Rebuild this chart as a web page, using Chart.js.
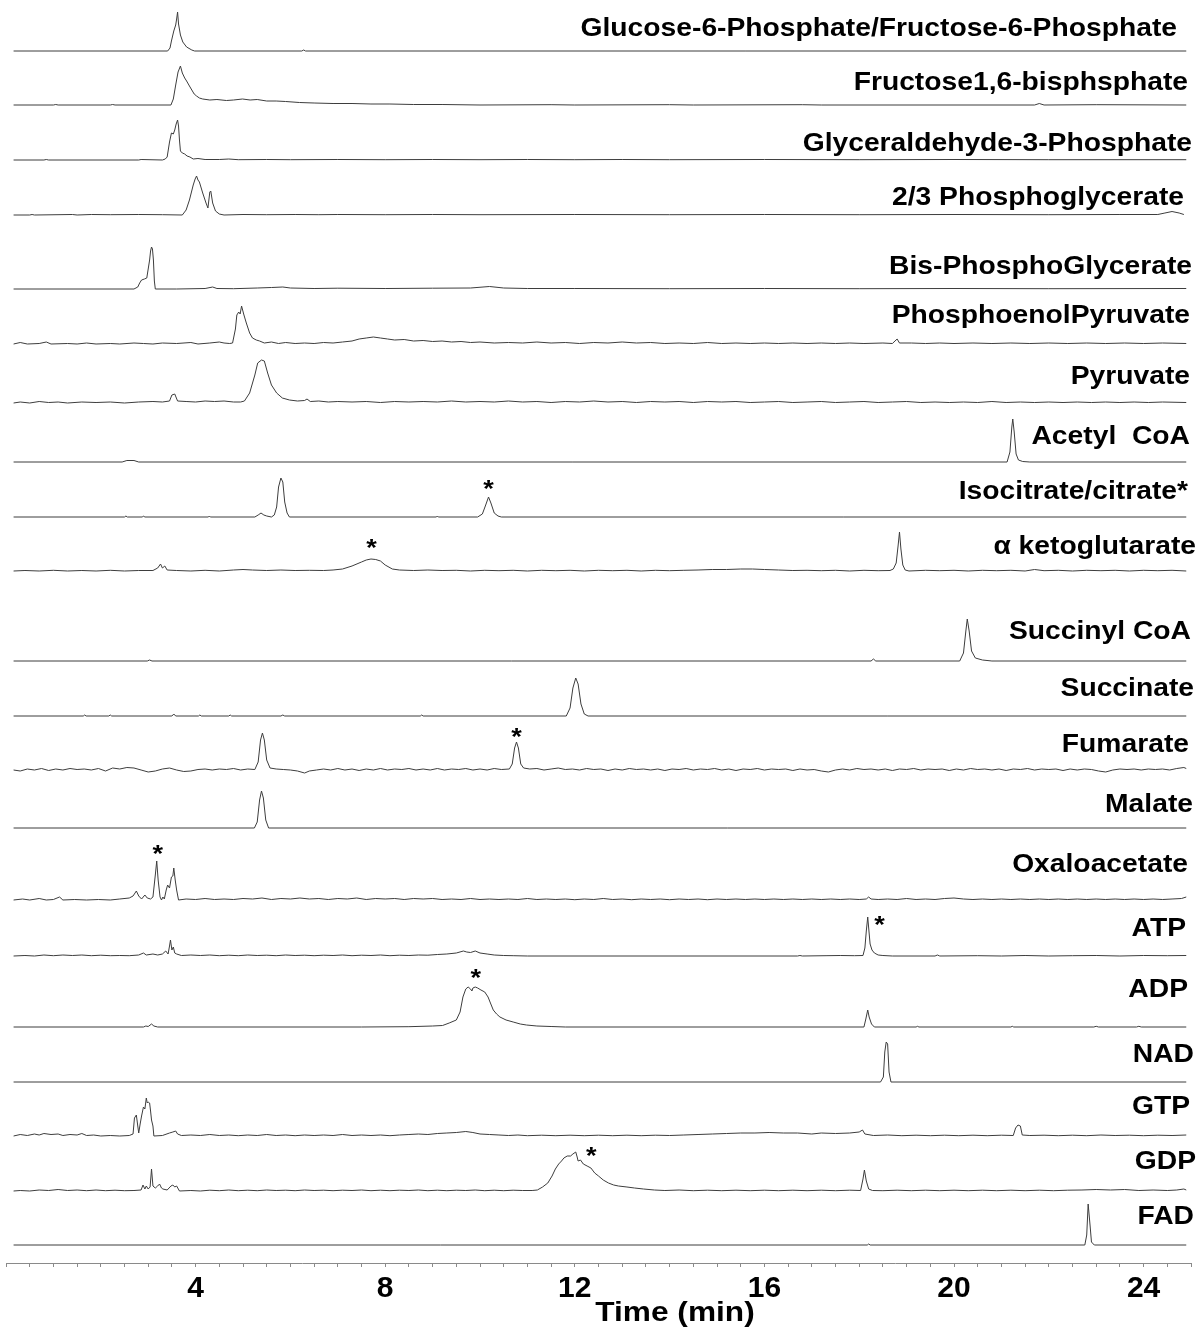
<!DOCTYPE html>
<html lang="en">
<head>
<meta charset="UTF-8">
<title>LC-MS/MS chromatograms of central carbon metabolites</title>
<script src="https://cdn.jsdelivr.net/npm/chart.js"></script>
<style>
  body { margin: 0; background: #fff; }
  #wrap { width: 1199px; height: 1332px; }
</style>
</head>
<body>
<div id="wrap"><canvas id="lcChart"></canvas></div>
<script>
// one trace per metabolite, top to bottom; each point is [time (min), signal above its own baseline]
const names = ['Glucose-6-Phosphate/Fructose-6-Phosphate', 'Fructose1,6-bisphsphate', 'Glyceraldehyde-3-Phosphate',
  '2/3 Phosphoglycerate', 'Bis-PhosphoGlycerate', 'PhosphoenolPyruvate', 'Pyruvate', 'Acetyl  CoA',
  'Isocitrate/citrate*', '\u03b1 ketoglutarate', 'Succinyl CoA', 'Succinate', 'Fumarate', 'Malate',
  'Oxaloacetate', 'ATP', 'ADP', 'NAD', 'GTP', 'GDP', 'FAD'];

const timeTicks = [4, 8, 12, 16, 20, 24];

const g6p = [[0.16,0],[3.41,0],[3.46,3],[3.49,10],[3.54,20],[3.58,26],[3.6,32],[3.62,39],[3.64,27],[3.68,16],[3.73,9],[3.81,4],[3.92,1],[3.98,0],[6.24,0],[6.28,1],[6.32,0],[24.9,0]];

const f16bp = [[0.16,0],[1.0,0],[1.05,0.5],[1.1,0],[2.2,0],[2.25,0.5],[2.3,0],[3.48,0],[3.53,6],[3.58,20],[3.63,33],[3.68,39],[3.72,32],[3.77,27],[3.81,24],[3.87,19],[3.92,15],[3.97,11],[4.02,9],[4.08,7],[4.15,6],[4.3,5],[4.45,5.5],[4.65,4.5],[4.8,5],[4.99,6],[5.15,5],[5.3,5.5],[5.5,4],[5.7,4],[5.9,3.5],[6.19,2.5],[6.5,2],[6.9,1.5],[7.3,1.5],[7.7,1],[8.1,1],[8.6,0.5],[9.2,0.5],[10,0],[11.5,0.3],[12,0],[14,0.3],[14.5,0],[16.8,0.3],[17.2,0],[21.7,0],[21.8,1.5],[21.9,0],[23,0.3],[24.9,0]];

const gap = [[0.16,0],[0.8,0],[0.85,0.5],[0.9,0],[2.8,0],[2.85,0.5],[3.3,0],[3.36,1],[3.4,3],[3.45,18],[3.49,27],[3.53,26],[3.56,30],[3.59,36],[3.62,40],[3.64,34],[3.66,20],[3.68,9],[3.72,7],[3.77,6],[3.82,4],[3.88,3],[3.95,1],[4.05,1.5],[4.2,0.5],[4.5,0.5],[4.7,1],[4.9,0.3],[5.5,0.5],[6,0.3],[7,0.5],[8,0.3],[9,0.5],[10,0.3],[11,0.5],[12,0.3],[13,0.5],[14,0.3],[16,0.5],[18,0.3],[20,0.5],[22,0.3],[24.9,0.3]];

const pga = [[0.16,0],[0.5,0],[0.55,0.5],[0.6,0],[1.4,0.5],[1.5,0],[1.8,0.5],[2.2,0.3],[2.8,0.5],[3.3,0.3],[3.72,0],[3.8,5],[3.87,15],[3.95,30],[3.99,36],[4.02,39],[4.05,35],[4.08,33],[4.15,22],[4.22,12],[4.26,7],[4.28,15],[4.3,23],[4.32,24],[4.36,12],[4.42,4],[4.5,1],[4.6,0],[5.0,0.5],[5.5,0.3],[6.1,0.5],[6.6,0.3],[7,0.5],[8,0.3],[9,0.5],[10,0.3],[12,0.5],[14,0.3],[16,0.5],[18,0.3],[20,0.5],[22,0.3],[23.5,0.5],[24.3,0.5],[24.45,2],[24.6,3.5],[24.75,2],[24.85,0.5]];

const bpg = [[0.16,0],[2.7,0],[2.78,2],[2.82,6],[2.86,9],[2.92,10],[2.97,11],[3.0,20],[3.03,29],[3.05,38],[3.07,42],[3.09,40],[3.11,29],[3.13,8],[3.15,0],[3.6,0],[4.2,0.5],[4.36,2],[4.45,0.5],[4.8,0.3],[5.3,1],[5.6,1.5],[5.84,2],[6.0,1],[6.5,0.5],[7,0.8],[8,0.5],[9,0.8],[9.8,1],[10.2,2.5],[10.5,1],[11,0.5],[12,0.5],[14,0.3],[16,0.5],[18,0.3],[20,0.5],[22,0.3],[24.9,0.5]];

const pep = [[0.16,0],[0.3,1.5],[0.45,0],[0.7,0.5],[0.85,2],[0.95,0],[1.3,0.5],[1.5,0],[1.7,1],[1.9,0],[2.2,0.5],[2.4,0],[2.7,1],[2.9,0.5],[3.1,0],[3.3,1],[3.6,0.5],[3.9,1.5],[4.05,0],[4.3,1],[4.5,2],[4.6,1],[4.72,0.5],[4.78,1],[4.84,15],[4.87,29],[4.91,32],[4.94,30],[4.97,38],[5.02,29],[5.07,21],[5.14,11],[5.2,6],[5.28,4],[5.35,3],[5.45,1],[5.6,2],[5.75,0.5],[5.9,1.5],[6.1,0.5],[6.3,1],[6.5,0.5],[6.7,1.5],[6.9,1],[7.1,2],[7.3,3],[7.45,5],[7.6,6],[7.75,7],[7.9,6],[8.05,5],[8.2,4],[8.4,4.5],[8.6,3],[8.8,3.5],[9.0,2.5],[9.2,3],[9.4,2],[9.6,2.5],[9.8,1.5],[10.0,2],[10.3,1],[10.6,1.5],[10.9,1],[11.2,2],[11.5,1],[11.8,1.5],[12.1,0.5],[12.4,1.5],[12.7,1],[13.0,2],[13.3,1],[13.6,1.5],[13.9,0.5],[14.2,1],[14.5,0.5],[14.8,1.5],[15.1,0.5],[15.4,1],[15.7,0.5],[16,1],[16.3,0.5],[16.6,1],[16.9,0.5],[17.2,1],[17.5,0.5],[17.8,1],[18.1,0.5],[18.5,1],[18.7,0.5],[18.8,5],[18.85,1],[19.1,1],[19.4,0.5],[19.7,1],[20,0.5],[20.4,1],[20.8,0.5],[21.2,1],[21.6,0.5],[22,1],[22.4,0.5],[22.8,1],[23.2,0.5],[23.6,1],[24,0.5],[24.4,1],[24.9,0.5]];

const pyr = [[0.16,0],[0.3,1],[0.5,0],[0.7,1.5],[0.9,0.5],[1.1,1],[1.3,0],[1.6,1],[1.9,0.5],[2.2,1],[2.5,0],[2.8,1],[3.1,1.5],[3.3,1],[3.45,2],[3.5,8],[3.56,9],[3.62,2],[3.8,1.5],[4.0,1],[4.2,2],[4.4,1.5],[4.6,2],[4.8,1],[4.95,1],[5.03,2],[5.14,10],[5.25,28],[5.31,40],[5.39,43],[5.45,42],[5.52,30],[5.6,18],[5.71,10],[5.83,5],[5.98,3],[6.15,2],[6.3,2.5],[6.35,4],[6.42,1.5],[6.6,2],[6.8,1],[7.0,1.5],[7.3,1],[7.6,1.5],[7.9,0.5],[8.2,1.5],[8.5,1],[8.8,1.5],[9.1,1],[9.4,2],[9.7,1],[10,1.5],[10.3,1],[10.6,2],[10.9,1],[11.2,1.5],[11.5,0.5],[11.8,1.5],[12.1,1],[12.4,2],[12.7,1],[13,1.5],[13.3,0.5],[13.6,1.5],[13.9,1],[14.2,1.5],[14.5,0.5],[14.8,1.5],[15.1,1],[15.4,1.5],[15.7,0.5],[16,1],[16.3,1.5],[16.6,0.5],[16.9,1],[17.2,1.5],[17.5,0.5],[17.8,1],[18.1,1.5],[18.4,0.5],[18.7,1],[19,1.5],[19.3,0.5],[19.6,1],[19.9,0.5],[20.2,1],[20.5,0.5],[20.8,1.5],[21.1,0.5],[21.4,1],[21.7,0.5],[22,1],[22.3,0.5],[22.6,1],[22.9,0.5],[23.2,1],[23.5,0.5],[23.8,1],[24.1,0.5],[24.4,1],[24.9,0.5]];

const accoa = [[0.16,0],[2.45,0],[2.55,1.5],[2.7,1.5],[2.8,0],[21.12,0],[21.18,10],[21.22,35],[21.24,43],[21.27,30],[21.31,8],[21.36,2],[21.45,0.5],[21.6,0],[24.9,0]];

const isocit = [[0.16,0],[2.5,0],[2.53,1],[2.56,0],[2.88,0],[2.9,1],[2.93,0],[4.27,0],[4.29,1],[4.31,0],[5.25,0],[5.32,2],[5.38,4],[5.44,2],[5.5,1],[5.6,0],[5.66,2],[5.71,10],[5.75,30],[5.8,39],[5.84,35],[5.88,15],[5.93,4],[5.98,0],[9.08,0],[9.1,1],[9.12,0],[9.95,0],[10.05,3],[10.12,12],[10.18,20],[10.23,14],[10.3,4],[10.38,1],[10.45,0],[24.9,0]];

const akg = [[0.16,0],[0.4,0.5],[0.7,0],[1.0,0.7],[1.3,0],[1.6,0.5],[1.9,0],[2.2,0.7],[2.5,0],[2.8,0.5],[3.1,0.5],[3.2,3],[3.26,7],[3.3,3],[3.35,5],[3.4,1],[3.6,0.5],[3.9,0],[4.2,0.7],[4.5,0],[4.8,1],[5.0,1.5],[5.2,1],[5.5,0.5],[5.8,1],[6.1,0.5],[6.4,0.7],[6.7,0.5],[6.9,1],[7.1,2],[7.3,5],[7.5,9],[7.6,11],[7.7,12],[7.8,11.5],[7.9,10],[8.0,6],[8.15,2],[8.3,1],[8.6,0.5],[8.9,1],[9.2,0.5],[9.5,0.7],[9.8,0],[10.1,0.7],[10.4,0.3],[10.7,0.7],[11,0],[11.3,0.7],[11.6,0.3],[11.9,0.7],[12.2,0],[12.5,0.7],[12.8,0.3],[13.1,0.7],[13.4,0],[13.7,0.7],[14,0.3],[14.3,0.7],[14.6,1],[14.9,1.5],[15.2,1.5],[15.5,2],[15.75,2],[16.0,1.5],[16.3,1],[16.6,0.5],[16.9,0.7],[17.2,0.3],[17.5,0.7],[17.8,0],[18.1,0.7],[18.4,0.3],[18.65,0.5],[18.72,2],[18.78,8],[18.82,25],[18.85,39],[18.88,22],[18.92,6],[18.97,1],[19.05,0],[19.4,0.7],[19.7,0.3],[20,0.7],[20.3,0],[20.6,0.7],[20.9,0.3],[21.2,0.7],[21.5,0],[21.7,1.5],[21.9,0.3],[22.2,0.7],[22.5,0],[22.8,0.7],[23.1,0.3],[23.4,0.7],[23.7,0],[24,0.7],[24.3,0.3],[24.6,0.7],[24.9,0]];

const succoa = [[0.16,0],[2.98,0],[3.03,1],[3.08,0],[18.25,0],[18.3,2],[18.35,0],[20.12,0],[20.2,8],[20.25,30],[20.28,42],[20.32,30],[20.37,10],[20.45,3],[20.6,1],[20.8,0],[24.9,0]];

const succinate = [[0.16,0],[1.63,0],[1.66,1],[1.69,0],[2.17,0],[2.2,1],[2.23,0],[3.5,0],[3.54,2],[3.58,0],[4.06,0],[4.09,1],[4.12,0],[4.7,0],[4.73,1],[4.76,0],[5.8,0],[5.84,1],[5.88,0],[8.74,0],[8.77,1],[8.8,0],[11.82,0],[11.9,8],[11.96,28],[12.02,38],[12.07,32],[12.13,12],[12.2,2],[12.28,0],[24.9,0]];

const fumarate = [[0.16,0],[0.3,-1],[0.45,1],[0.6,0],[0.75,1.5],[0.9,-0.5],[1.05,1],[1.2,0],[1.35,1.5],[1.5,0.5],[1.65,1],[1.8,0],[1.95,1.5],[2.1,-1],[2.25,2],[2.4,1],[2.55,2.5],[2.7,2],[2.85,0],[3.0,-2],[3.15,-1],[3.3,1],[3.45,2],[3.6,0],[3.75,-1.5],[3.9,-1],[4.05,0.5],[4.2,1],[4.35,0],[4.5,1],[4.65,0.5],[4.8,1.5],[4.95,0],[5.1,1],[5.25,0.5],[5.32,8],[5.37,30],[5.41,37],[5.45,30],[5.5,10],[5.57,2],[5.7,1],[5.85,0.5],[6.0,0],[6.15,-1],[6.3,-3],[6.4,-1],[6.55,0],[6.7,1],[6.85,0],[7.0,1.5],[7.15,0],[7.3,1],[7.45,-0.5],[7.6,1],[7.75,0],[7.9,1.5],[8.05,0],[8.2,1],[8.35,0.5],[8.5,1.5],[8.65,0],[8.8,1],[8.95,0],[9.1,1.5],[9.25,0],[9.4,1],[9.55,0.5],[9.7,1.5],[9.85,0],[10.0,1],[10.15,0],[10.3,1.5],[10.45,0.5],[10.62,1],[10.68,6],[10.73,22],[10.77,28],[10.81,22],[10.86,6],[10.92,2],[11.05,1],[11.2,1.5],[11.35,0],[11.5,1],[11.65,2],[11.8,0.5],[11.95,1],[12.1,0],[12.25,1.5],[12.4,0.5],[12.55,1],[12.7,-0.5],[12.85,1],[13.0,0],[13.15,1.5],[13.3,0.5],[13.45,1],[13.6,0],[13.75,1],[13.9,-0.5],[14.05,1],[14.2,0.5],[14.35,1.5],[14.5,0],[14.65,1],[14.8,0.5],[14.95,1.5],[15.1,0],[15.25,1],[15.4,-0.5],[15.55,1],[15.7,0.5],[15.85,1.5],[16.0,0],[16.15,1],[16.3,0.5],[16.45,1],[16.6,-0.5],[16.75,1],[16.9,0],[17.05,0.5],[17.2,-1],[17.35,-2],[17.5,0],[17.65,1],[17.8,0],[17.95,1.5],[18.1,0.5],[18.25,1],[18.4,0],[18.55,1],[18.7,-0.5],[18.85,1],[19.0,0.5],[19.15,1.5],[19.3,0],[19.45,1],[19.6,0.5],[19.75,1],[19.9,-0.5],[20.05,1],[20.2,0],[20.35,1.5],[20.5,0.5],[20.65,1],[20.8,0],[20.95,1],[21.1,-0.5],[21.25,1],[21.4,0.5],[21.55,1.5],[21.7,0],[21.85,1],[22.0,0.5],[22.15,1],[22.3,-0.5],[22.45,1],[22.6,0],[22.75,1],[22.9,0.5],[23.05,-1],[23.2,-2],[23.35,0],[23.5,1],[23.65,0.5],[23.8,1],[23.95,0],[24.1,1],[24.25,0.5],[24.4,1],[24.55,0],[24.7,1.5],[24.85,2.5],[24.9,1.5]];

const malate = [[0.16,0],[5.24,0],[5.3,6],[5.35,28],[5.39,37],[5.43,30],[5.48,8],[5.54,0],[24.9,0]];

const oaa = [[0.16,0],[0.35,1],[0.5,0],[0.7,1.5],[0.85,0],[1.0,0.5],[1.13,3],[1.2,0],[1.45,0.5],[1.7,0],[1.95,0.5],[2.2,0],[2.4,1],[2.6,2],[2.68,4],[2.75,9],[2.8,4],[2.86,1],[2.93,5],[2.98,2],[3.05,1],[3.1,3],[3.15,25],[3.18,39],[3.21,20],[3.25,3],[3.28,0],[3.31,3],[3.34,1],[3.38,10],[3.41,15],[3.45,12],[3.49,23],[3.52,24],[3.54,32],[3.57,20],[3.6,10],[3.64,0],[3.8,1],[4.0,0.5],[4.2,1.5],[4.4,0.5],[4.6,1],[4.8,0.5],[5.0,1.5],[5.2,1],[5.4,2],[5.6,0.5],[5.8,1.5],[6.0,1],[6.2,2],[6.4,1],[6.6,1.5],[6.8,0.5],[7.0,1.5],[7.2,1],[7.4,2],[7.6,0.5],[7.8,1.5],[8.0,1],[8.2,1.5],[8.4,0.5],[8.6,1.5],[8.8,1],[9.0,1.5],[9.2,0.5],[9.4,1],[9.6,0.5],[9.8,1.5],[10.0,0.5],[10.2,1],[10.4,0.5],[10.6,1],[10.8,0.5],[11.0,1.5],[11.2,0.5],[11.4,1],[11.6,0.5],[11.8,1],[12.0,0.3],[12.2,1],[12.4,0.5],[12.6,1.5],[12.8,0.5],[13.0,1],[13.2,0.3],[13.4,1],[13.6,0.5],[13.8,1],[14.0,0.3],[14.2,1],[14.4,0.5],[14.6,1],[14.8,0.3],[15.0,1],[15.2,0.5],[15.4,1],[15.6,0.5],[15.8,1],[16.0,0.5],[16.2,1],[16.4,0.5],[16.6,1],[16.8,0.5],[17.0,1],[17.2,0.5],[17.4,1],[17.6,0.5],[17.8,1],[18.0,0.5],[18.15,1],[18.2,3],[18.25,1],[18.4,0.5],[18.6,1],[18.8,0.5],[19.0,1.5],[19.2,0.5],[19.4,1],[19.6,0.5],[19.8,1.5],[20.0,2],[20.2,1],[20.4,0.5],[20.6,1],[20.8,0.5],[21.0,1],[21.2,0.5],[21.4,1],[21.6,0.5],[21.8,1],[22.0,0.5],[22.2,1],[22.4,0.5],[22.6,1],[22.8,0.5],[23.0,1],[23.2,0.5],[23.4,1],[23.6,0.5],[23.8,1],[24.0,0.5],[24.2,1],[24.4,0.5],[24.6,1],[24.8,1.5],[24.9,3]];

const atp = [[0.16,0],[0.4,0.5],[0.6,0],[0.8,1],[1.0,0.3],[1.2,1],[1.4,0.5],[1.6,1],[1.8,0.3],[2.0,0.8],[2.2,0.3],[2.4,0.5],[2.6,0.3],[2.8,1],[2.9,3],[2.96,1],[3.1,2],[3.2,1],[3.3,2],[3.37,5],[3.42,2],[3.45,10],[3.47,16],[3.5,6],[3.53,9],[3.56,3],[3.6,2],[3.7,0.5],[3.9,1],[4.1,0.5],[4.3,1],[4.5,0.3],[4.7,0.8],[4.9,0.3],[5.1,1],[5.3,0.5],[5.5,0.8],[5.7,0.3],[5.9,1],[6.1,0.5],[6.3,0.8],[6.5,0.3],[6.7,0.8],[6.9,0.5],[7.1,1],[7.3,0.3],[7.5,0.8],[7.7,0.5],[7.9,1],[8.1,0.3],[8.3,0.8],[8.5,0.5],[8.7,1],[8.9,0.8],[9.1,1.5],[9.3,2],[9.5,3],[9.65,5],[9.72,4],[9.8,3.5],[9.9,5],[10.0,3],[10.15,2],[10.3,1],[10.5,0.5],[10.7,0.3],[11.0,0],[16.7,0],[16.75,0.5],[16.8,0],[17.3,0.3],[17.6,0.5],[17.9,0.3],[18.08,0.5],[18.12,8],[18.15,25],[18.18,39],[18.2,28],[18.23,12],[18.27,6],[18.32,3],[18.4,1],[18.5,0.5],[18.7,0],[19.6,0],[19.65,1],[19.7,0],[20.5,0.3],[21.0,0],[21.5,0.5],[22,0],[22.5,0.3],[23,0.5],[23.5,0],[24,0.5],[24.5,0.3],[24.9,0.5]];

const adp = [[0.16,0],[2.9,0],[2.95,1],[3.0,0.5],[3.07,3],[3.12,1],[3.2,0],[7.5,0],[8.5,0.3],[9.0,1],[9.21,1.5],[9.35,4],[9.5,7],[9.58,15],[9.64,30],[9.7,38],[9.75,40],[9.8,38],[9.83,36],[9.85,39],[9.9,40],[9.95,39],[10.02,37],[10.1,35],[10.17,30],[10.22,24],[10.28,17],[10.35,13],[10.42,10],[10.55,7],[10.7,5],[10.85,3],[10.98,2],[11.2,1],[11.5,0.5],[11.8,0],[18.1,0],[18.14,8],[18.18,17],[18.21,10],[18.26,3],[18.32,0],[19.2,0],[19.23,0.7],[19.26,0],[21.2,0],[21.23,0.7],[21.26,0],[22.95,0],[23.0,0.7],[23.05,0],[23.85,0],[23.9,0.7],[23.95,0],[24.9,0]];

const nad = [[0.16,0],[18.45,0],[18.51,5],[18.54,30],[18.57,40],[18.6,38],[18.63,10],[18.67,0],[24.9,0]];

const gtp = [[0.16,0],[0.3,1.5],[0.45,0.5],[0.6,2],[0.7,1],[0.8,2.5],[0.95,1.5],[1.1,2],[1.2,0.5],[1.35,1.5],[1.5,1],[1.6,2.5],[1.7,0.5],[1.85,1],[2.0,0],[2.2,0.5],[2.4,0],[2.6,0.5],[2.68,2],[2.71,18],[2.75,21],[2.78,10],[2.8,3],[2.83,12],[2.86,20],[2.9,29],[2.93,27],[2.96,38],[2.98,33],[3.0,34],[3.03,33],[3.05,25],[3.07,16],[3.1,10],[3.12,0],[3.3,0.5],[3.45,3],[3.52,4],[3.58,5],[3.62,2],[3.7,0.5],[3.9,1],[4.1,0.5],[4.3,1.5],[4.5,0.5],[4.7,1],[4.9,0.3],[5.1,1],[5.3,0.5],[5.5,1.5],[5.7,0.5],[5.9,1],[6.1,0.3],[6.3,1],[6.5,0.5],[6.7,1],[6.9,0.5],[7.1,1.5],[7.3,0.5],[7.5,1],[7.7,0.5],[7.9,1],[8.1,0.3],[8.3,1],[8.5,1.5],[8.7,2],[8.9,1.5],[9.1,2.5],[9.3,3],[9.5,3.5],[9.7,4.5],[9.85,3.5],[10.0,2],[10.2,1.5],[10.4,1],[10.6,0.5],[10.8,1],[11.0,0.3],[11.3,0.8],[11.6,0.3],[11.9,0.8],[12.2,0.3],[12.5,0.8],[12.8,0.3],[13.1,0.8],[13.4,0.3],[13.7,0.8],[14.0,0.5],[14.3,1],[14.6,1.5],[14.9,2],[15.2,2.5],[15.5,3],[15.8,3],[16.1,3.5],[16.4,3],[16.7,3],[17.0,2],[17.2,3],[17.5,2.5],[17.8,3],[18.0,4],[18.07,6],[18.12,2],[18.3,0.5],[18.6,1],[18.9,0.3],[19.2,0.8],[19.5,0.3],[19.8,0.8],[20.1,0.3],[20.4,0.8],[20.7,0.3],[21.0,0.8],[21.25,0.5],[21.3,8],[21.35,11],[21.4,10],[21.44,1],[21.6,0.5],[21.9,0.8],[22.2,0.3],[22.5,0.8],[22.8,0.3],[23.1,1],[23.4,0.5],[23.7,0.8],[24.0,0.3],[24.3,0.8],[24.6,0.5],[24.9,1]];

const gdp = [[0.16,0],[0.3,0.5],[0.5,0],[0.7,1],[0.9,0.5],[1.1,1.5],[1.3,0.5],[1.5,1],[1.7,0.3],[1.9,1],[2.1,0.3],[2.3,0.8],[2.5,0.3],[2.7,0.5],[2.85,1],[2.89,6],[2.93,2],[2.96,5],[3.0,2],[3.04,4],[3.07,22],[3.1,5],[3.15,3],[3.2,5],[3.24,7],[3.28,3],[3.31,2],[3.4,1],[3.48,5],[3.52,6],[3.56,4],[3.6,5],[3.66,0],[3.9,0.5],[4.1,0],[4.3,0.8],[4.5,0.3],[4.7,1],[4.9,0.3],[5.1,0.8],[5.3,0.3],[5.5,1],[5.7,0.5],[5.9,0.8],[6.1,0.3],[6.3,1],[6.5,0.5],[6.7,0.8],[6.9,0.3],[7.1,0.8],[7.3,0.5],[7.5,1],[7.7,0.3],[7.9,0.8],[8.1,0.3],[8.3,0.8],[8.5,0.5],[8.7,1],[8.9,0.3],[9.1,0.8],[9.3,0.3],[9.5,0.8],[9.7,0.5],[9.9,1],[10.1,0.3],[10.3,0.8],[10.5,0.3],[10.7,0.8],[10.9,0.5],[11.1,0.5],[11.21,1],[11.32,4],[11.43,8],[11.52,15],[11.59,22],[11.66,27],[11.72,30],[11.77,33],[11.84,35],[11.91,35],[11.96,37],[12.02,39],[12.05,34],[12.07,30],[12.12,31],[12.18,27],[12.26,25],[12.34,23],[12.42,18],[12.5,15],[12.6,11],[12.71,8],[12.82,6],[12.92,5],[13.1,4],[13.26,3],[13.45,2],[13.68,1],[13.9,0.5],[14.2,1],[14.5,0.3],[14.8,0.8],[15.1,0.3],[15.4,0.8],[15.7,0.3],[16.0,0.8],[16.3,0.3],[16.6,0.8],[16.9,0.3],[17.2,0.8],[17.5,0.3],[17.8,0.8],[18.03,0.5],[18.08,12],[18.11,21],[18.15,10],[18.2,2],[18.28,0.5],[18.5,0.3],[18.8,0.8],[19.1,0.3],[19.4,0.8],[19.7,0.3],[20.0,0.8],[20.3,0.3],[20.6,0.8],[20.9,0.3],[21.2,0.8],[21.5,0.3],[21.8,0.8],[22.1,0.3],[22.4,0.8],[22.7,1],[23.0,1.5],[23.3,1],[23.6,1.5],[23.9,0.5],[24.2,1],[24.5,0.5],[24.7,1],[24.85,2],[24.9,1]];

const fad = [[0.16,0],[18.17,0],[18.2,1],[18.23,0],[22.76,0],[22.8,10],[22.83,41],[22.87,20],[22.9,3],[22.96,0],[24.9,0]];

const traces = [g6p, f16bp, gap, pga, bpg, pep, pyr, accoa, isocit, akg, succoa, succinate,
  fumarate, malate, oaa, atp, adp, nad, gtp, gdp, fad];

// peaks flagged with an asterisk: [trace index, time, height above baseline]
const starred = [[8, 10.18, 34], [9, 7.71, 29], [12, 10.77, 39], [14, 3.2, 52],
  [15, 18.43, 37], [16, 9.91, 55], [19, 12.35, 41]];

// layout: vertical offset of each baseline, label lift above baseline, label right edge
const offsets = [1212, 1158, 1103, 1048, 974, 919, 860, 801, 746, 692, 602, 547, 493, 435, 363, 307, 236, 181, 127, 72, 18];
const labelLift = [24, 24, 18, 19, 24, 30, 28, 27, 27, 26, 31, 29, 27, 25, 37, 29, 39, 29, 31, 31, 30];
const labelRight = [1177, 1188, 1192, 1184, 1192, 1190, 1190, 1190, 1188, 1196, 1191, 1194, 1189, 1193, 1188, 1186, 1188, 1194, 1190, 1196, 1194];

const FONT = '"Liberation Sans", Arial, sans-serif';
const STRETCH = 1.13;   // the figure's lettering is a little wide

function wideText(ctx, str, x, y) {
  ctx.save();
  ctx.translate(x, y);
  ctx.scale(STRETCH, 1);
  ctx.fillText(str, 0, 0);
  ctx.restore();
}

const annotate = {
  id: 'annotate',
  afterDraw(chart) {
    const { ctx, scales: { x, y } } = chart;
    ctx.save();
    ctx.fillStyle = '#000';
    ctx.textBaseline = 'alphabetic';

    // trace names
    ctx.textAlign = 'right';
    ctx.font = 'bold 25px ' + FONT;
    names.forEach((name, i) => {
      const base = y.getPixelForValue(offsets[i]);
      wideText(ctx, name, labelRight[i], base - labelLift[i] + 9);
    });

    // asterisks
    ctx.textAlign = 'center';
    ctx.font = 'bold 24px ' + FONT;
    starred.forEach(([i, t, h]) => {
      wideText(ctx, '*', x.getPixelForValue(t), y.getPixelForValue(offsets[i] + h) + 14);
    });

    // axis title
    ctx.font = 'bold 28px ' + FONT;
    wideText(ctx, 'Time (min)', 675, 1321);
    ctx.restore();
  }
};

const datasets = traces.map((pts, i) => ({
  label: names[i],
  data: pts.map(([t, v]) => ({ x: t, y: offsets[i] + v })),
  borderColor: '#3d3d3d',
  borderWidth: 1,
  pointRadius: 0,
  tension: 0,
  fill: false,
  clip: false
}));

new Chart(document.getElementById('lcChart'), {
  type: 'line',
  data: { datasets },
  options: {
    responsive: true,
    maintainAspectRatio: false,
    animation: false,
    parsing: false,
    layout: { padding: { left: 6, right: 8, top: 0, bottom: 0 } },
    plugins: { legend: { display: false }, tooltip: { enabled: false } },
    scales: {
      x: {
        type: 'linear',
        min: 0,
        max: 25,
        afterFit(scale) { scale.height = 69; },
        border: { color: '#8a8a8a', width: 1 },
        grid: { drawOnChartArea: false, tickLength: 4, color: '#8a8a8a' },
        ticks: {
          stepSize: 0.5,
          autoSkip: false,
          maxRotation: 0,
          padding: 4,
          color: '#000',
          font: { family: FONT, weight: 'bold', size: 30 },
          callback: v => timeTicks.includes(v) ? String(v) : ''
        }
      },
      y: { display: false, min: 0, max: 1263 }
    }
  },
  plugins: [annotate]
});
</script>
</body>
</html>
